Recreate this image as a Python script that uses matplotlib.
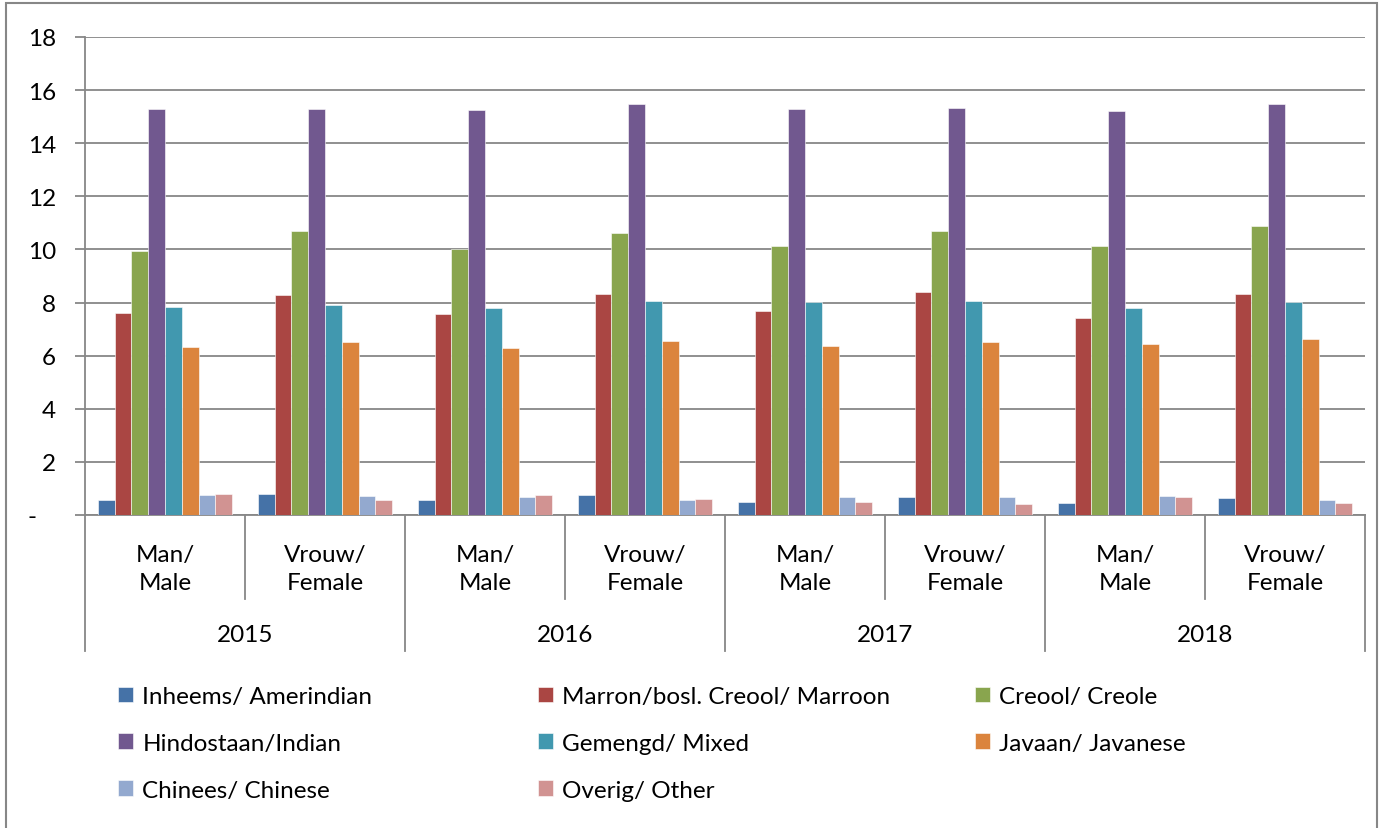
import numpy as np
import matplotlib
matplotlib.use("Agg")
import matplotlib.pyplot as plt
from matplotlib.patches import Rectangle
from matplotlib.transforms import blended_transform_factory

plt.rcParams['font.family'] = ['Lato', 'DejaVu Sans']

years = ["2015", "2016", "2017", "2018"]
sexes = ["Man/\nMale", "Vrouw/\nFemale"]

groups = [
    "Inheems/ Amerindian",
    "Marron/bosl. Creool/ Marroon",
    "Creool/ Creole",
    "Hindostaan/Indian",
    "Gemengd/ Mixed",
    "Javaan/ Javanese",
    "Chinees/ Chinese",
    "Overig/ Other",
]
colors = ["#4572A7", "#AA4643", "#89A54E", "#71588F",
          "#4198AF", "#DB843D", "#93A9CF", "#D19392"]

# values per category: 2015 M, 2015 F, 2016 M, 2016 F, 2017 M, 2017 F, 2018 M, 2018 F
amerindian = [0.56, 0.78, 0.56, 0.75, 0.50, 0.67, 0.45, 0.64]
marroon    = [7.60, 8.30, 7.57, 8.33, 7.70, 8.38, 7.42, 8.32]
creole     = [9.95, 10.68, 10.00, 10.62, 10.12, 10.70, 10.12, 10.87]
indian     = [15.28, 15.30, 15.25, 15.48, 15.28, 15.33, 15.23, 15.48]
mixed      = [7.85, 7.92, 7.80, 8.07, 8.02, 8.07, 7.80, 8.02]
javanese   = [6.33, 6.52, 6.28, 6.57, 6.35, 6.53, 6.45, 6.63]
chinese    = [0.76, 0.72, 0.68, 0.56, 0.68, 0.67, 0.73, 0.57]
other      = [0.79, 0.56, 0.74, 0.61, 0.50, 0.43, 0.68, 0.45]

series = [amerindian, marroon, creole, indian, mixed, javanese, chinese, other]

FS = 17.5
GRID = "#878787"

fig = plt.figure(figsize=(13.84, 8.29), dpi=100)
W, H = 1384, 829
ax = fig.add_axes([85 / W, (H - 516) / H, 1280 / W, 478 / H])

n_cat = len(years) * len(sexes)
x = np.arange(n_cat)
bw = 0.105
for j, (vals, c, name) in enumerate(zip(series, colors, groups)):
    ax.bar(x + (j - 3.5) * bw, vals, width=bw, color=c, label=name,
           edgecolor="white", linewidth=0.4, zorder=3)

ax.set_xlim(-0.5, n_cat - 0.5)
ax.set_ylim(0, 18)
ax.set_yticks(range(0, 19, 2))
ax.set_yticklabels(["-   "] + [str(v) for v in range(2, 19, 2)], fontsize=FS)
ax.yaxis.grid(True, color=GRID, linewidth=1.3, zorder=0)
ax.tick_params(axis="y", length=7, width=1.3, color=GRID, pad=14)
ax.set_xticks([])

for s in ["top", "right"]:
    ax.spines[s].set_visible(False)
ax.spines["left"].set_color(GRID)
ax.spines["left"].set_linewidth(1.3)
ax.spines["bottom"].set_color(GRID)
ax.spines["bottom"].set_linewidth(1.3)

# hierarchical category axis
tr = blended_transform_factory(ax.transData, ax.transAxes)
inner_bottom = -84 / 478
outer_bottom = -136 / 478
for b in np.arange(-0.5, n_cat, 1.0):
    low = outer_bottom if (b + 0.5) % 2 == 0 else inner_bottom
    ax.plot([b, b], [0, low], transform=tr, color=GRID, linewidth=1.3,
            clip_on=False)

for i in range(n_cat):
    ax.text(x[i], -0.112, sexes[i % 2], transform=tr, ha="center",
            va="center", fontsize=FS, linespacing=1.38)
for k, yr in enumerate(years):
    ax.text(2 * k + 0.5, -0.25, yr, transform=tr, ha="center",
            va="center", fontsize=FS)

# legend, three fixed-width columns
handles, labels = ax.get_legend_handles_labels()
col_x = [118, 538, 975]
for ci in range(3):
    idx = [i for i in range(ci, len(handles), 3)]
    leg = fig.legend([handles[i] for i in idx], [labels[i] for i in idx],
                     loc="upper left",
                     bbox_to_anchor=(col_x[ci] / W, 1 - 687 / H),
                     frameon=False, fontsize=FS, borderpad=0,
                     borderaxespad=0, handlelength=0.62, handleheight=0.62,
                     handletextpad=0.38, labelspacing=1.06)

# outer chart border
fig.patches.append(Rectangle((6 / W, -0.01), 1371 / W, 1.01 - 4 / H,
                             transform=fig.transFigure, fill=False,
                             edgecolor=GRID, linewidth=1.5))

fig.savefig("out.png", dpi=100)
